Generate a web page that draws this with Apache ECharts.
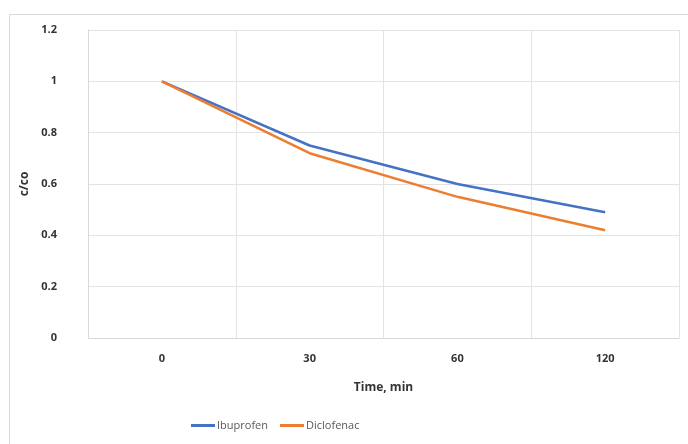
<!DOCTYPE html>
<html><head><meta charset="utf-8">
<script src="https://cdn.jsdelivr.net/npm/echarts@6/dist/echarts.min.js"></script>
<style>html,body{margin:0;padding:0;background:#fff}#c{width:688px;height:444px}</style>
</head><body><div id="c"></div>
<script>
const categories = ['0', '30', '60', '120'];
const ibuprofen = [1, 0.75, 0.60, 0.49];
const diclofenac = [1, 0.72, 0.55, 0.42];
const yTicks = [0, 0.2, 0.4, 0.6, 0.8, 1, 1.2];

const font = '"Open Sans", "Liberation Sans", sans-serif';
const chart = echarts.init(document.getElementById('c'));
chart.setOption({
  animation: false,
  graphic: [{
    type: 'rect', left: 7, top: 12, shape: { width: 700, height: 460 },
    style: { fill: 'none', stroke: '#d9d9d9', lineWidth: 1 }, silent: true
  }],
  grid: { left: 88, right: 9, top: 30, bottom: 106 },
  legend: {
    bottom: 8, left: 186, itemWidth: 24, itemHeight: 3, itemGap: 12,
    icon: 'rect',
    textStyle: { fontFamily: font, fontSize: 11, color: '#595959', padding: [0, 0, 0, -3] },
    data: ['Ibuprofen', 'Diclofenac']
  },
  xAxis: {
    type: 'category', data: categories, boundaryGap: true,
    name: 'Time, min', nameLocation: 'middle', nameGap: 44,
    nameTextStyle: { fontFamily: font, fontSize: 12, fontWeight: 'bold', color: '#333333' },
    axisLine: { show: true, lineStyle: { color: '#d9d9d9' } },
    axisTick: { show: false },
    axisLabel: { fontFamily: font, fontSize: 11, fontWeight: 'bold', color: '#333333', margin: 15 },
    splitLine: { show: true, lineStyle: { color: '#e3e3e3', width: 1 } }
  },
  yAxis: {
    type: 'value', min: yTicks[0], max: yTicks[yTicks.length - 1], interval: 0.2,
    name: 'c/co', nameLocation: 'middle', nameGap: 44, nameRotate: 90,
    nameTextStyle: { fontFamily: font, fontSize: 12, fontWeight: 'bold', color: '#333333' },
    axisLine: { show: true, lineStyle: { color: '#d9d9d9' } },
    axisTick: { show: false },
    axisLabel: { fontFamily: font, fontSize: 11, fontWeight: 'bold', color: '#333333', margin: 31,
      formatter: v => String(Math.round(v * 10) / 10) },
    splitLine: { show: true, lineStyle: { color: '#e3e3e3', width: 1 } }
  },
  series: [
    { name: 'Ibuprofen', type: 'line', data: ibuprofen, showSymbol: false, symbol: 'none',
      itemStyle: { color: '#4472C4' }, lineStyle: { color: '#4472C4', width: 2.5 } },
    { name: 'Diclofenac', type: 'line', data: diclofenac, showSymbol: false, symbol: 'none',
      itemStyle: { color: '#ED7D31' }, lineStyle: { color: '#ED7D31', width: 2.5 } }
  ]
});
</script></body></html>
